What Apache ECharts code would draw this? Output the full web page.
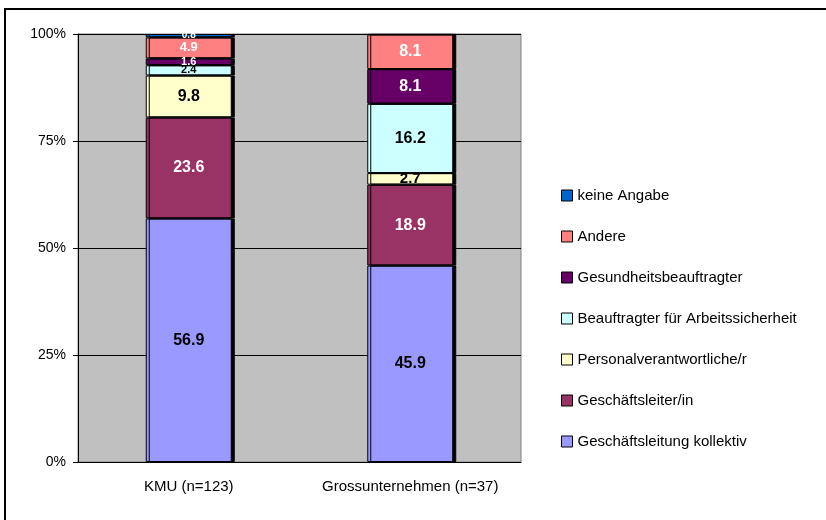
<!DOCTYPE html>
<html>
<head>
<meta charset="utf-8">
<script src="https://cdn.jsdelivr.net/npm/echarts@6/dist/echarts.min.js"></script>
<style>html,body{margin:0;padding:0;background:#fff}#c{width:826px;height:520px}</style>
</head>
<body>
<div id="c"></div>
<script>
const categories = ['KMU (n=123)', 'Grossunternehmen (n=37)'];
const seriesNames = ['Geschäftsleitung kollektiv', 'Geschäftsleiter/in', 'Personalverantwortliche/r', 'Beauftragter für Arbeitssicherheit', 'Gesundheitsbeauftragter', 'Andere', 'keine Angabe'];
const kollektiv = [56.9, 45.9];
const leiter = [23.6, 18.9];
const personal = [9.8, 2.7];
const beauftragter = [2.4, 16.2];
const gesundheit = [1.6, 8.1];
const andere = [4.9, 8.1];
const keineAngabe = [0.8, 0];
const yTicks = [0, 25, 50, 75, 100];

const values = [kollektiv, leiter, personal, beauftragter, gesundheit, andere, keineAngabe];
const colors = ['#9999FF', '#993366', '#FFFFCC', '#CCFFFF', '#660066', '#FF8080', '#0066CC'];
const labelColors = ['#000', '#fff', '#000', '#000', '#fff', '#fff', '#fff'];

function labelSize(v, ci) {
  if (v < 1) return 10;
  if (v < 3 && ci === 0) return 11;
  if (v < 3) return 15;
  if (v < 6) return 13;
  return 16;
}

const series = values.map((arr, si) => ({
  name: seriesNames[si],
  type: 'bar',
  stack: 'total',
  barWidth: 86,
  itemStyle: { color: colors[si], borderColor: '#000', borderWidth: 1, shadowColor: '#000', shadowOffsetX: 3, shadowOffsetY: 0, shadowBlur: 0 },
  emphasis: { disabled: true },
  data: arr.map((v, ci) => ({
    value: v,
    label: {
      show: v > 0,
      fontSize: labelSize(v, ci),
      lineHeight: labelSize(v, ci)
    }
  })),
  label: {
    show: true,
    position: 'inside',
    color: labelColors[si],
    fontWeight: 'bold',
    fontFamily: 'Liberation Sans, Arial, sans-serif',
    formatter: p => p.value > 0 ? p.value.toFixed(1) : ''
  }
}));

const chart = echarts.init(document.getElementById('c'), null, { renderer: 'canvas' });
chart.setOption({
  animation: false,
  backgroundColor: '#fff',
  textStyle: { fontFamily: 'Liberation Sans, Arial, sans-serif' },
  graphic: [{
    type: 'rect',
    shape: { x: 5, y: 9, width: 1000, height: 1000 },
    style: { fill: 'none', stroke: '#000', lineWidth: 2 },
    silent: true
  }],
  grid: {
    left: 78, right: 305, top: 34, bottom: 58,
    show: true, backgroundColor: '#C0C0C0', borderColor: '#808080', borderWidth: 1
  },
  legend: {
    orient: 'vertical',
    left: 561,
    top: 188,
    padding: 0,
    itemWidth: 11,
    itemHeight: 11,
    itemGap: 26,
    icon: 'rect',
    inactiveColor: '#000',
    selectedMode: false,
    itemStyle: { borderColor: '#000', borderWidth: 1 },
    textStyle: { fontSize: 15, color: '#000', fontFamily: 'Liberation Sans, Arial, sans-serif' },
    data: seriesNames.slice().reverse()
  },
  xAxis: {
    type: 'category',
    data: categories,
    axisLine: { lineStyle: { color: '#000', width: 1 } },
    axisTick: { show: false },
    axisLabel: { fontSize: 15, color: '#000', margin: 17, interval: 0 },
    splitLine: { show: false }
  },
  yAxis: {
    type: 'value',
    min: 0, max: 100, interval: 25,
    axisLine: { show: true, lineStyle: { color: '#000' } },
    axisTick: { show: true, length: 5, lineStyle: { color: '#000' } },
    axisLabel: { fontSize: 14, color: '#000', margin: 12, formatter: v => yTicks.includes(v) ? v + '%' : '' },
    splitLine: { show: true, lineStyle: { color: '#000', width: 1 } }
  },
  series: series
});
</script>
</body>
</html>
